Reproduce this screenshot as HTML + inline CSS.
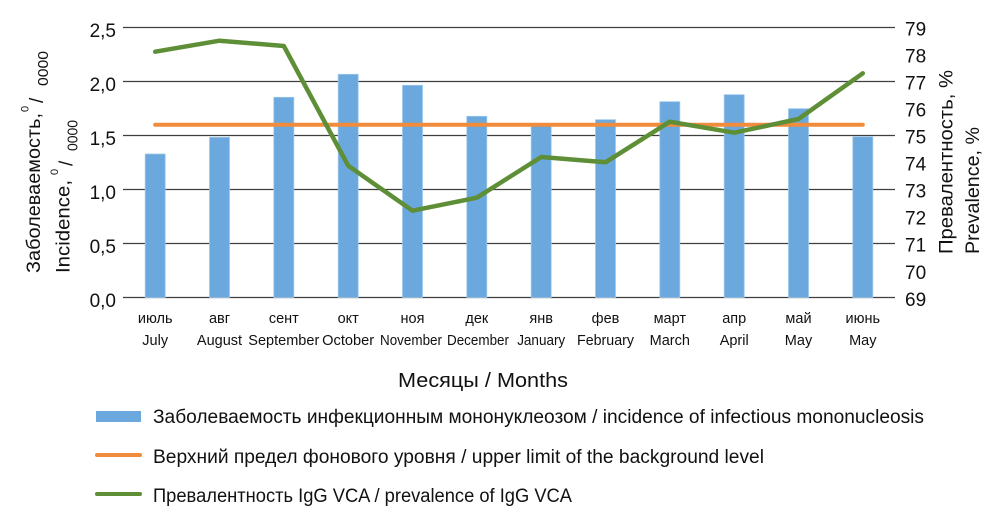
<!DOCTYPE html>
<html>
<head>
<meta charset="utf-8">
<style>
  html, body { margin: 0; padding: 0; background: #ffffff; }
  svg { display: block; }
  text { font-family: "Liberation Sans", "DejaVu Sans", sans-serif; fill: #111111; }
</style>
</head>
<body>
<svg width="1000" height="514" viewBox="0 0 1000 514" xmlns="http://www.w3.org/2000/svg">
  <rect x="0" y="0" width="1000" height="514" fill="#ffffff"/>

  <!-- gridlines -->
  <g stroke="#3f3f3f" stroke-width="1.3">
    <line x1="123" y1="27.5" x2="895" y2="27.5"/>
    <line x1="123" y1="81.5" x2="895" y2="81.5"/>
    <line x1="123" y1="135.5" x2="895" y2="135.5"/>
    <line x1="123" y1="189.5" x2="895" y2="189.5"/>
    <line x1="123" y1="243.5" x2="895" y2="243.5"/>
    <line x1="123" y1="297.5" x2="895" y2="297.5"/>
  </g>

  <!-- bars -->
  <g fill="#6aa8dd" stroke="#9ec8ec" stroke-width="0.8">
    <rect x="145.2" y="154" width="20" height="143.5"/>
    <rect x="209.5" y="137.3" width="20" height="160.2"/>
    <rect x="273.8" y="97.3" width="20" height="200.2"/>
    <rect x="338.2" y="74.3" width="20" height="223.2"/>
    <rect x="402.5" y="85.3" width="20" height="212.2"/>
    <rect x="466.8" y="116.3" width="20" height="181.2"/>
    <rect x="531.2" y="126" width="20" height="171.5"/>
    <rect x="595.5" y="119.7" width="20" height="177.8"/>
    <rect x="659.8" y="101.7" width="20" height="195.8"/>
    <rect x="724.2" y="94.7" width="20" height="202.8"/>
    <rect x="788.5" y="108.7" width="20" height="188.8"/>
    <rect x="852.8" y="136.7" width="20" height="160.8"/>
  </g>

  <!-- orange background limit -->
  <line x1="155.2" y1="124.7" x2="862.8" y2="124.7" stroke="#f08c3c" stroke-width="4" stroke-linecap="round"/>

  <!-- green prevalence -->
  <polyline fill="none" stroke="#5e8f37" stroke-width="4.5" stroke-linejoin="round" stroke-linecap="round"
    points="155.2,51.7 219.5,40.7 283.8,46 348.2,165.7 412.5,210.7 476.8,197.7 541.2,157 605.5,162.3 669.8,121.7 734.2,132.7 798.5,119 862.8,73.3"/>

  <!-- left tick labels -->
  <g font-size="19" text-anchor="end">
    <text x="116" y="37">2,5</text>
    <text x="116" y="91">2,0</text>
    <text x="116" y="145">1,5</text>
    <text x="116" y="199">1,0</text>
    <text x="116" y="253">0,5</text>
    <text x="116" y="307">0,0</text>
  </g>

  <!-- right tick labels -->
  <g font-size="19" text-anchor="start">
    <text x="905" y="35.3">79</text>
    <text x="905" y="62.4">78</text>
    <text x="905" y="89.4">77</text>
    <text x="905" y="116.5">76</text>
    <text x="905" y="143.5">75</text>
    <text x="905" y="170.6">74</text>
    <text x="905" y="197.6">73</text>
    <text x="905" y="224.7">72</text>
    <text x="905" y="251.7">71</text>
    <text x="905" y="278.8">70</text>
    <text x="905" y="305.8">69</text>
  </g>

  <!-- x category labels -->
  <g font-size="14.5" text-anchor="middle">
    <text x="155.2" y="323">июль</text>
    <text x="219.5" y="323">авг</text>
    <text x="283.8" y="323">сент</text>
    <text x="348.2" y="323">окт</text>
    <text x="412.5" y="323">ноя</text>
    <text x="476.8" y="323">дек</text>
    <text x="541.2" y="323">янв</text>
    <text x="605.5" y="323">фев</text>
    <text x="669.8" y="323">март</text>
    <text x="734.2" y="323">апр</text>
    <text x="798.5" y="323">май</text>
    <text x="862.8" y="323">июнь</text>

    <text x="155.2" y="345">July</text>
    <text x="219.5" y="345">August</text>
    <text x="283.8" y="345" textLength="71" lengthAdjust="spacingAndGlyphs">September</text>
    <text x="348.2" y="345" textLength="52" lengthAdjust="spacingAndGlyphs">October</text>
    <text x="411" y="345" textLength="62" lengthAdjust="spacingAndGlyphs">November</text>
    <text x="478" y="345" textLength="62" lengthAdjust="spacingAndGlyphs">December</text>
    <text x="541.2" y="345" textLength="48" lengthAdjust="spacingAndGlyphs">January</text>
    <text x="605.5" y="345" textLength="57" lengthAdjust="spacingAndGlyphs">February</text>
    <text x="669.8" y="345">March</text>
    <text x="734.2" y="345">April</text>
    <text x="798.5" y="345">May</text>
    <text x="862.8" y="345">May</text>
  </g>

  <!-- x axis title -->
  <text x="398" y="387" font-size="20" textLength="170" lengthAdjust="spacingAndGlyphs">Месяцы / Months</text>

  <!-- left axis title line 1 -->
  <g transform="translate(40,273) rotate(-90)">
    <text x="0" y="0" font-size="19.5" textLength="160" lengthAdjust="spacingAndGlyphs">Заболеваемость,</text>
  </g>
  <g transform="translate(28.5,112) rotate(-90)">
    <text x="0" y="0" font-size="11">0</text>
  </g>
  <g transform="translate(43,103) rotate(-90)">
    <text x="0" y="0" font-size="19">/</text>
  </g>
  <g transform="translate(48,86) rotate(-90)">
    <text x="0" y="0" font-size="15" textLength="35" lengthAdjust="spacingAndGlyphs">0000</text>
  </g>

  <!-- left axis title line 2 -->
  <g transform="translate(69.5,273) rotate(-90)">
    <text x="0" y="0" font-size="19.5" textLength="93" lengthAdjust="spacingAndGlyphs">Incidence,</text>
  </g>
  <g transform="translate(58,175) rotate(-90)">
    <text x="0" y="0" font-size="11">0</text>
  </g>
  <g transform="translate(72.5,166) rotate(-90)">
    <text x="0" y="0" font-size="19">/</text>
  </g>
  <g transform="translate(77.5,151) rotate(-90)">
    <text x="0" y="0" font-size="15" textLength="31" lengthAdjust="spacingAndGlyphs">0000</text>
  </g>

  <!-- right axis title -->
  <g transform="translate(952.5,254) rotate(-90)">
    <text x="0" y="0" font-size="19.5" textLength="184" lengthAdjust="spacingAndGlyphs">Превалентность, %</text>
  </g>
  <g transform="translate(979,254) rotate(-90)">
    <text x="0" y="0" font-size="19.5" textLength="127" lengthAdjust="spacingAndGlyphs">Prevalence, %</text>
  </g>

  <!-- legend -->
  <rect x="96" y="411" width="45" height="11" fill="#6aa8dd"/>
  <text x="153" y="423" font-size="19" textLength="771" lengthAdjust="spacingAndGlyphs">Заболеваемость инфекционным мононуклеозом / incidence of infectious mononucleosis</text>

  <line x1="97" y1="455" x2="140" y2="455" stroke="#f08c3c" stroke-width="4" stroke-linecap="round"/>
  <text x="153" y="463" font-size="19" textLength="611" lengthAdjust="spacingAndGlyphs">Верхний предел фонового уровня / upper limit of the background level</text>

  <line x1="97" y1="494" x2="140" y2="494" stroke="#5e8f37" stroke-width="4" stroke-linecap="round"/>
  <text x="153" y="502" font-size="19" textLength="419" lengthAdjust="spacingAndGlyphs">Превалентность IgG VCA / prevalence of IgG VCA</text>
</svg>
</body>
</html>
